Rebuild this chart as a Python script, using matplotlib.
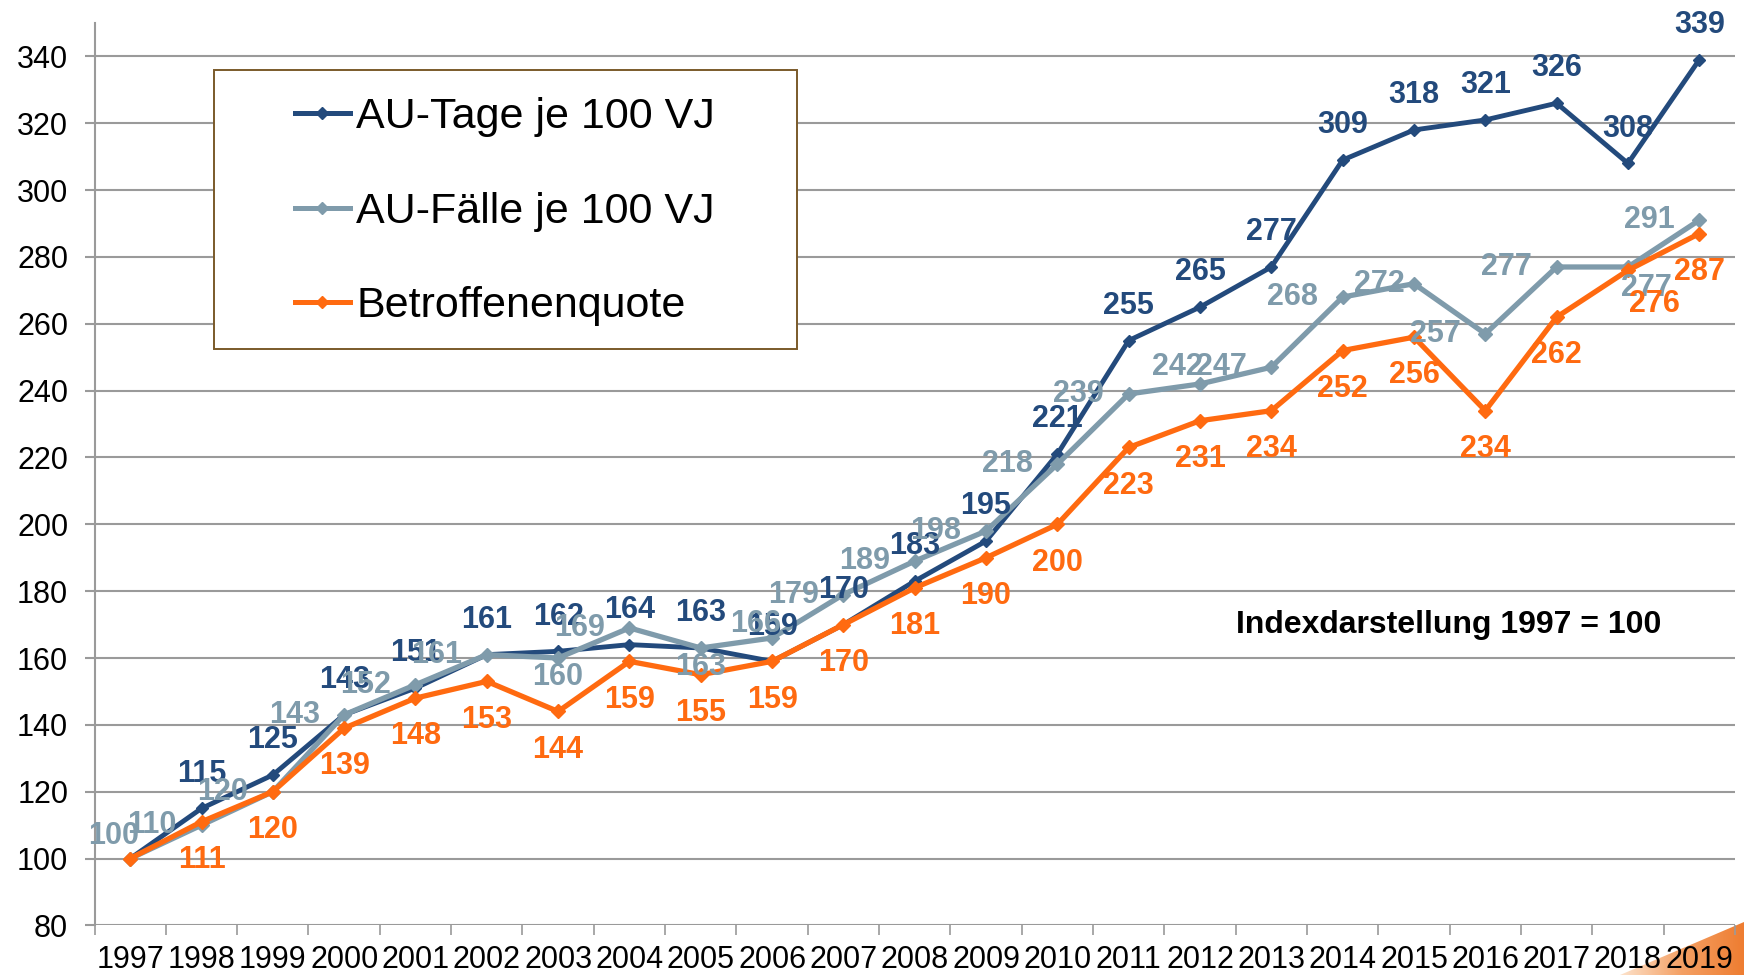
import matplotlib
matplotlib.use("Agg")
import numpy as np
import matplotlib.pyplot as plt
from matplotlib.lines import Line2D
from matplotlib.patches import Rectangle, Polygon
from matplotlib.colors import LinearSegmentedColormap

plt.rcParams['font.family'] = ['Liberation Sans', 'DejaVu Sans']

years = [str(y) for y in range(1997, 2020)]
au_tage = [100, 115, 125, 143, 151, 161, 162, 164, 163, 159, 170, 183, 195,
           221, 255, 265, 277, 309, 318, 321, 326, 308, 339]
au_faelle = [100, 110, 120, 143, 152, 161, 160, 169, 163, 166, 179, 189, 198,
             218, 239, 242, 247, 268, 272, 257, 277, 277, 291]
betroffen = [100, 111, 120, 139, 148, 153, 144, 159, 155, 159, 170, 181, 190,
             200, 223, 231, 234, 252, 256, 234, 262, 276, 287]
series_names = ["AU-Tage je 100 VJ", "AU-Fälle je 100 VJ", "Betroffenenquote"]
y_ticks = list(range(80, 341, 20))

c_dark = '#234a7c'
c_grey = '#7f9bab'
c_orange = '#ff6a10'

fig = plt.figure(figsize=(17.44, 9.75), dpi=100, facecolor='white')

# decorative corner (drawn beneath the chart)
cax = fig.add_axes([1620 / 1744, 0, 124 / 1744, 53 / 975])
cax.set_zorder(0)
cax.axis('off')
cmap = LinearSegmentedColormap.from_list('corner', ['#fde3cc', '#f4a064', '#ee7d31'])
im = cax.imshow(np.linspace(0, 1, 256)[None, :], extent=(0, 1, 0, 1), aspect='auto',
                cmap=cmap, origin='lower')
cax.set_xlim(0, 1)
cax.set_ylim(0, 1)
tri = Polygon([(0, 0), (1, 0), (1, 1)], closed=True, transform=cax.transData,
              facecolor='none', edgecolor='none')
cax.add_patch(tri)
im.set_clip_path(tri)

ax = fig.add_axes([0.0542, 0.0509, 0.9406, 0.9255])
ax.set_zorder(1)
ax.patch.set_alpha(0)

x = list(range(len(years)))
ax.plot(x, au_tage, color=c_dark, lw=3.5, marker='D', ms=6, zorder=3)
ax.plot(x, au_faelle, color=c_grey, lw=3.8, marker='D', ms=7, zorder=4)
ax.plot(x, betroffen, color=c_orange, lw=3.8, marker='D', ms=7, zorder=5)

lab_kw = dict(fontsize=22, fontweight='bold', ha='center', va='center',
              textcoords='offset points', zorder=6)
# dark labels above
for i, v in enumerate(au_tage):
    if i == 0:
        continue
    ax.annotate(str(v), (i, v), xytext=(0, 25), color=c_dark, **lab_kw)
# grey labels left (with a few manual shifts as in the original)
grey_off = {0: (-12, 16), 6: (0, -13.5), 8: (0, -13.5), 9: (-12, 10),
            15: (-16, 12), 18: (-25, 0), 21: (13, -15)}
for i, v in enumerate(au_faelle):
    dx, dy = grey_off.get(i, (-36, 0))
    ax.annotate(str(v), (i, v), xytext=(dx, dy), color=c_grey, **lab_kw)
# orange labels below
orange_off = {21: (19, -24)}
for i, v in enumerate(betroffen):
    if i == 0:
        continue
    dx, dy = orange_off.get(i, (0, -27.5))
    ax.annotate(str(v), (i, v), xytext=(dx, dy), color=c_orange, **lab_kw)

ax.set_xlim(-0.5, len(years) - 0.5)
ax.set_ylim(80, 350)
ax.set_yticks(y_ticks)
ax.set_yticklabels([str(t) for t in y_ticks])
ax.set_xticks(x)
ax.set_xticklabels(years)
ax.set_xticks([i - 0.5 for i in range(len(years) + 1)], minor=True)

for s in ['top', 'right', 'bottom']:
    ax.spines[s].set_visible(False)
ax.spines['left'].set_color('#9a9a9a')
ax.spines['left'].set_linewidth(1.5)
ax.yaxis.grid(True, color='#9a9a9a', lw=1.5)
ax.set_axisbelow(True)
ax.tick_params(axis='y', length=7, width=1.5, color='#9a9a9a', labelsize=22, pad=12)
ax.tick_params(axis='x', which='major', length=0, labelsize=22, pad=14)
ax.tick_params(axis='x', which='minor', length=7, width=1.2, color='#9a9a9a')

ax.text(0.8257, 0.333, "Indexdarstellung 1997 = 100", transform=ax.transAxes,
        fontsize=23, fontweight='bold', ha='center', va='center', color='black')

# legend
handles = [Line2D([], [], color=c, lw=3.6, marker='D', ms=6)
           for c in (c_dark, c_grey, c_orange)]
leg = fig.legend(handles, series_names, loc='upper left',
                 bbox_to_anchor=(0.1691, 0.9005), frameon=False, fontsize=31,
                 handlelength=1.28, handletextpad=0.15, labelspacing=1.27,
                 borderpad=0, borderaxespad=0)
fig.patches.append(Rectangle((0.1227, 0.6421), 0.3343, 0.2862, transform=fig.transFigure,
                             facecolor='white', edgecolor='#7a5a2a', lw=1.4, zorder=2))
leg.set_zorder(10)

fig.savefig('out.png', dpi=100, facecolor='white')
